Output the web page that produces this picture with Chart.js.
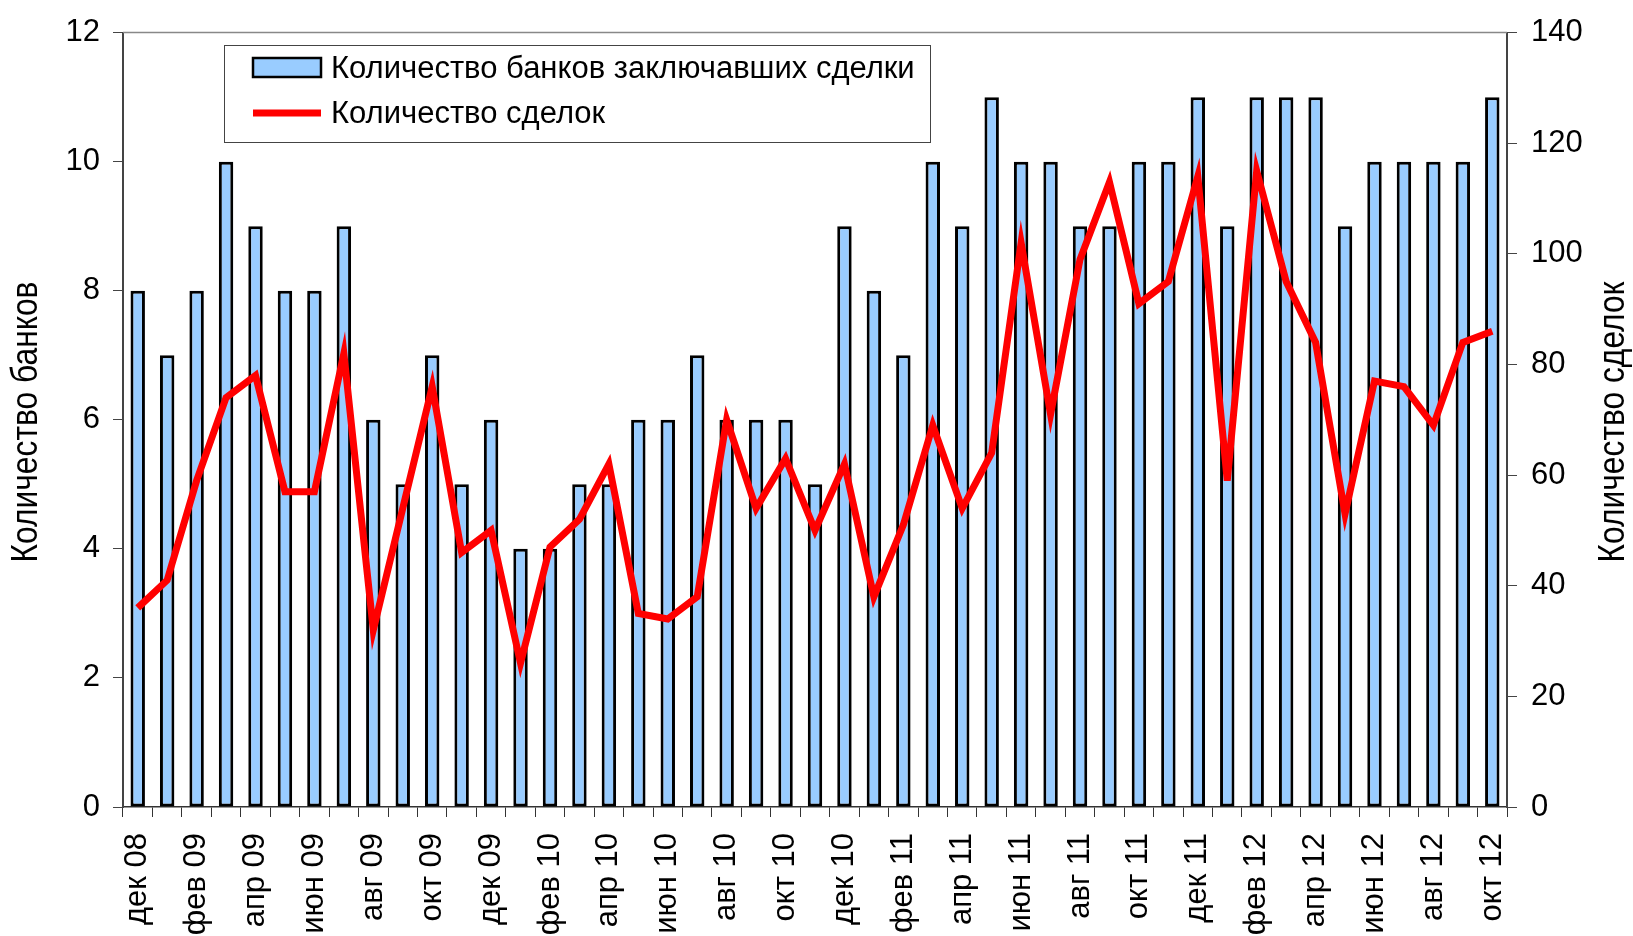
<!DOCTYPE html>
<html>
<head>
<meta charset="utf-8">
<script src="https://cdn.jsdelivr.net/npm/chart.js@4.4.1/dist/chart.umd.min.js"></script>
<style>
  html, body { margin: 0; padding: 0; background: #fff; }
  canvas { display: block; }
</style>
</head>
<body>
<canvas id="chart" width="1633" height="936"></canvas>
<script>
// monthly, dec 2008 .. oct 2012
const months = [
    'дек 08', 'янв 09', 'фев 09', 'мар 09', 'апр 09', 'май 09', 'июн 09', 'июл 09', 'авг 09', 'сен 09', 'окт 09', 'ноя 09',
    'дек 09', 'янв 10', 'фев 10', 'мар 10', 'апр 10', 'май 10', 'июн 10', 'июл 10', 'авг 10', 'сен 10', 'окт 10', 'ноя 10',
    'дек 10', 'янв 11', 'фев 11', 'мар 11', 'апр 11', 'май 11', 'июн 11', 'июл 11', 'авг 11', 'сен 11', 'окт 11', 'ноя 11',
    'дек 11', 'янв 12', 'фев 12', 'мар 12', 'апр 12', 'май 12', 'июн 12', 'июл 12', 'авг 12', 'сен 12', 'окт 12'
];

const banks = [8, 7, 8, 10, 9, 8, 8, 9, 6, 5, 7, 5, 6, 4, 4, 5, 5, 6, 6, 7, 6, 6, 6, 5,
    9, 8, 7, 10, 9, 11, 10, 10, 9, 9, 10, 10, 11, 9, 11, 11, 11, 9, 10, 10, 10, 10, 11];

const deals = [36, 41, 59, 74, 78, 57, 57, 82, 32, 54, 76, 46, 50, 26, 47, 52, 62, 35, 34, 38, 70, 54, 63, 50,
    62, 38, 51, 69, 54, 64, 102, 71, 99, 113, 91, 95, 114, 59, 115, 95, 84, 53, 77, 76, 69, 84, 86];

const banksLabel = 'Количество банков заключавших сделки';
const dealsLabel = 'Количество сделок';
const leftTitle = 'Количество банков';
const rightTitle = 'Количество сделок';

const tickFont = { family: 'Liberation Sans, Arial, sans-serif', size: 31 };

// rotated title squeezed to look like Arial Narrow
function drawTitle(ctx, text, x, y, len) {
    ctx.save();
    ctx.font = '37px Liberation Sans, Arial, sans-serif';
    ctx.fillStyle = '#000';
    ctx.textAlign = 'center';
    ctx.textBaseline = 'middle';
    const w = ctx.measureText(text).width;
    ctx.translate(x, y);
    ctx.rotate(-Math.PI / 2);
    ctx.scale(len / w, 1);
    ctx.fillText(text, 0, 0);
    ctx.restore();
}

// legend box inside the plot, frame on top, axis titles
const extras = {
    id: 'extras',
    afterDraw(chart) {
        const ctx = chart.ctx;
        const a = chart.chartArea;
        ctx.save();

        // top edge of the plot area
        ctx.strokeStyle = '#888';
        ctx.lineWidth = 1.5;
        ctx.beginPath();
        ctx.moveTo(a.left, a.top);
        ctx.lineTo(a.right, a.top);
        ctx.stroke();

        // legend
        const bar = chart.data.datasets.find(d => d.type === 'bar');
        const line = chart.data.datasets.find(d => d.type === 'line');
        const bx = a.left + 101, by = 45;
        ctx.fillStyle = '#fff';
        ctx.fillRect(bx, by, 706, 97);
        ctx.strokeStyle = '#444';
        ctx.lineWidth = 1;
        ctx.strokeRect(bx + 0.5, by + 0.5, 706, 97);

        ctx.fillStyle = bar.backgroundColor;
        ctx.fillRect(bx + 29, by + 13, 68, 19);
        ctx.strokeStyle = '#000';
        ctx.lineWidth = 2.5;
        ctx.strokeRect(bx + 29, by + 13, 68, 19);

        ctx.strokeStyle = line.borderColor;
        ctx.lineWidth = 7;
        ctx.beginPath();
        ctx.moveTo(bx + 29, by + 68);
        ctx.lineTo(bx + 97, by + 68);
        ctx.stroke();

        ctx.fillStyle = '#000';
        ctx.font = '31px Liberation Sans, Arial, sans-serif';
        ctx.textBaseline = 'middle';
        ctx.textAlign = 'left';
        ctx.fillText(bar.label, bx + 107, by + 24);
        ctx.fillText(line.label, bx + 107, by + 69);
        ctx.restore();

        drawTitle(ctx, leftTitle, 27, 422, 281);
        drawTitle(ctx, rightTitle, 1614, 422, 281);
    }
};

const ctx = document.getElementById('chart').getContext('2d');
const chart = new Chart(ctx, {
    data: {
        labels: months,
        datasets: [{
            type: 'bar',
            label: banksLabel,
            data: banks,
            yAxisID: 'y',
            backgroundColor: '#99ccff',
            borderColor: '#000000',
            borderWidth: 3,
            borderSkipped: false,
            barPercentage: 0.49,
            categoryPercentage: 1,
            order: 1
        }, {
            type: 'line',
            label: dealsLabel,
            data: deals,
            yAxisID: 'y1',
            borderColor: '#ff0000',
            borderWidth: 7,
            pointRadius: 0,
            tension: 0,
            order: 0
        }]
    },
    options: {
        responsive: false,
        animation: false,
        layout: { padding: { top: 29, left: 0, right: 0, bottom: 0 } },
        plugins: {
            legend: { display: false },
            tooltip: { enabled: false }
        },
        scales: {
            x: {
                offset: true,
                grid: {
                    offset: true,
                    drawOnChartArea: false,
                    drawTicks: true,
                    tickLength: 10,
                    color: '#333'
                },
                border: { color: '#333', width: 1.5 },
                ticks: {
                    autoSkip: false,
                    maxRotation: 90,
                    minRotation: 90,
                    padding: 16,
                    color: '#000',
                    font: tickFont,
                    callback: function(value, index) {
                        return index % 2 === 0 ? this.getLabelForValue(value) : '';
                    }
                },
                afterFit: scale => { scale.height = 129; }
            },
            y: {
                position: 'left',
                min: 0,
                max: 12,
                grid: { drawOnChartArea: false, tickLength: 10, color: '#444' },
                border: { color: '#444', width: 2 },
                ticks: { stepSize: 2, padding: 13, color: '#000', font: tickFont },
                afterFit: scale => { scale.width = 123; }
            },
            y1: {
                position: 'right',
                min: 0,
                max: 140,
                grid: { drawOnChartArea: false, tickLength: 10, color: '#444' },
                border: { color: '#444', width: 2 },
                ticks: { stepSize: 20, padding: 14, color: '#000', font: tickFont },
                afterFit: scale => { scale.width = 126; }
            }
        }
    },
    plugins: [extras]
});
</script>
</body>
</html>
